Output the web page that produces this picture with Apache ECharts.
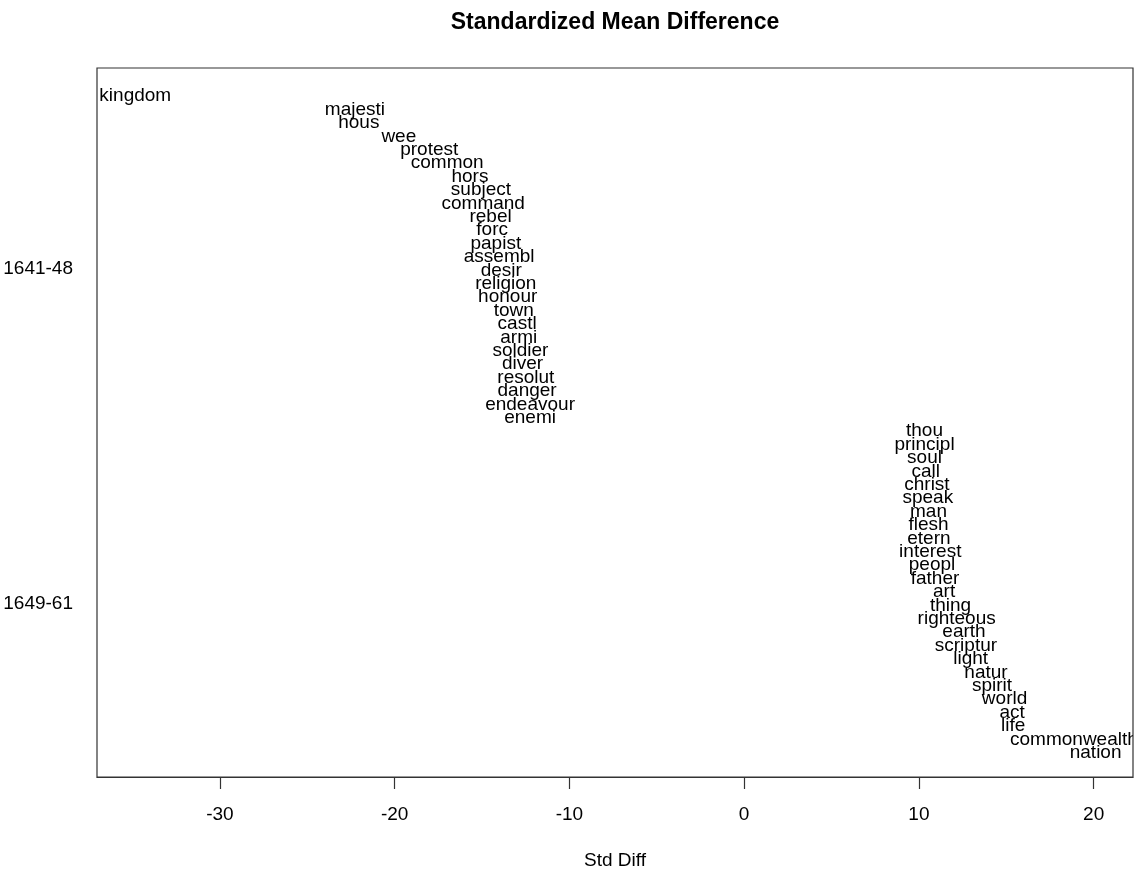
<!DOCTYPE html>
<html>
<head>
<meta charset="utf-8">
<script src="https://cdn.jsdelivr.net/npm/echarts@6/dist/echarts.min.js"></script>
<style>
html,body{margin:0;padding:0;background:#fff;}
#chart{width:1138px;height:875px;}
</style>
</head>
<body>
<div id="chart"></div>
<script>
// Words ordered top to bottom
const words = [
  'kingdom','majesti','hous','wee','protest','common','hors','subject','command','rebel',
  'forc','papist','assembl','desir','religion','honour','town','castl','armi','soldier',
  'diver','resolut','danger','endeavour','enemi',
  'thou','principl','soul','call','christ','speak','man','flesh','etern','interest',
  'peopl','father','art','thing','righteous','earth','scriptur','light','natur','spirit',
  'world','act','life','commonwealth','nation'
];
// Standardized mean difference for each word
const stdDiff = [
  -34.84,-22.27,-22.05,-19.76,-18.02,-16.99,-15.69,-15.06,-14.93,-14.51,
  -14.42,-14.21,-14.02,-13.90,-13.64,-13.53,-13.18,-12.99,-12.90,-12.80,
  -12.68,-12.49,-12.42,-12.25,-12.25,
  10.32,10.32,10.32,10.39,10.46,10.51,10.55,10.55,10.57,10.65,
  10.75,10.92,11.44,11.81,12.16,12.58,12.69,12.96,13.84,14.18,
  14.90,15.33,15.39,18.87,20.11
];
const xTicks = [-30,-20,-10,0,10,20];
const yTickPos = [14, 39];
const yTickLabels = ['1641-48','1649-61'];

const FONT = '"Liberation Sans", Arial, Helvetica, sans-serif';
const data = words.map((w, i) => [stdDiff[i], i + 1, w]);

const chart = echarts.init(document.getElementById('chart'), null, {renderer: 'canvas'});
chart.setOption({
  backgroundColor: '#ffffff',
  animation: false,
  title: {
    text: 'Standardized Mean Difference',
    left: 615,
    textAlign: 'center',
    top: 11,
    padding: 0,
    textStyle: {fontFamily: FONT, fontWeight: 'bold', fontSize: 23, color: '#000'}
  },
  grid: {
    left: 97, right: 5, top: 68, bottom: 98,
    show: true, borderColor: '#333', borderWidth: 1.2, backgroundColor: 'transparent'
  },
  xAxis: {
    type: 'value',
    min: -37.03, max: 22.25,
    name: 'Std Diff',
    nameLocation: 'middle',
    nameGap: 74,
    nameTextStyle: {fontFamily: FONT, fontSize: 19, color: '#000'},
    axisLine: {show: true, onZero: false, lineStyle: {color: '#333', width: 1.2}},
    axisTick: {show: true, inside: false, length: 12, customValues: xTicks, lineStyle: {color: '#333', width: 1.2}},
    axisLabel: {show: true, margin: 28, customValues: xTicks, fontFamily: FONT, fontSize: 19, color: '#000'},
    splitLine: {show: false}
  },
  yAxis: {
    type: 'value',
    inverse: true,
    min: -0.96, max: 51.96,
    axisLine: {show: false},
    axisTick: {show: false},
    splitLine: {show: false},
    axisLabel: {
      show: true, margin: 24, customValues: yTickPos,
      fontFamily: FONT, fontSize: 19, color: '#000',
      formatter: function (v) {
        const k = yTickPos.indexOf(Math.round(v));
        return k >= 0 ? yTickLabels[k] : '';
      }
    }
  },
  series: [{
    type: 'custom',
    clip: true,
    data: data,
    renderItem: function (params, api) {
      const p = api.coord([api.value(0), api.value(1)]);
      return {
        type: 'text',
        x: p[0], y: p[1] + 2,
        style: {
          text: data[params.dataIndex][2],
          fill: '#000',
          fontFamily: FONT,
          fontSize: 19,
          align: 'center',
          verticalAlign: 'middle'
        }
      };
    }
  }]
});
</script>
</body>
</html>
